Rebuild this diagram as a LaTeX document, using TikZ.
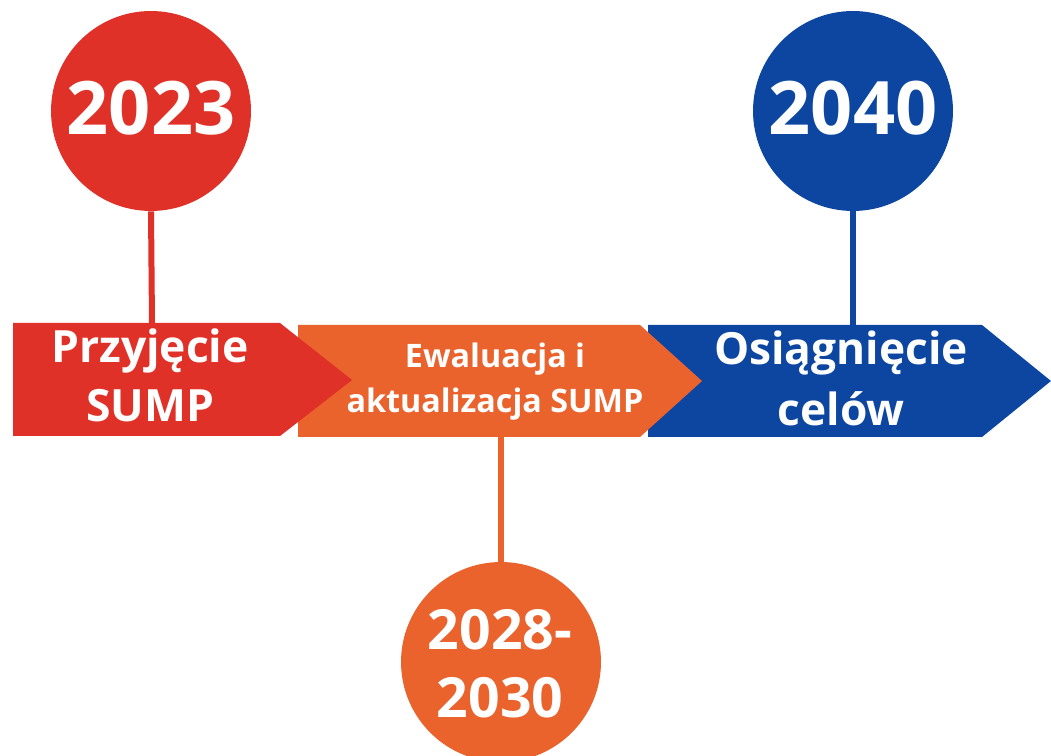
\documentclass[tikz,border=0pt]{standalone}
\usepackage{fontspec}
\setmainfont{Open Sans}
\usepackage{tikz}
\usetikzlibrary{positioning,
				calc}

\definecolor{sumpred}{RGB}{224,49,40}
\definecolor{sumporange}{RGB}{234,98,44}
\definecolor{sumpblue}{RGB}{12,70,160}

\tikzset{
	year/.style={circle, minimum size=4cm, inner sep=0pt},
	stem/.style={line width=0.12cm},
	lbl/.style={text=white, font=\bfseries, inner sep=0pt, anchor=base},
}

\begin{document}
\begin{tikzpicture}[x=0.02cm,y=-0.02cm]
		\useasboundingbox (0,0) rectangle (1051,756);
		% chevrons, drawn right to left so each tip lies on top
		\fill[sumpblue] (648,325) -- (982,325) -- (1051,381) -- (982,437) -- (648,437) -- cycle;
		\fill[sumporange] (298,325) -- (640,325) -- (702,381) -- (640,437) -- (298,437) -- cycle;
		\fill[sumpred] (13,323) -- (280,323) -- (352,380) -- (280,436) -- (13,436) -- cycle;
		\coordinate (redtop) at (152,323);
		\coordinate (orangebot) at (501,437);
		\coordinate (bluetop) at (853,325);
		% year circles
		\begin{scope}
			\clip (0,0) rectangle (1051,756);
			\node[year, fill=sumpred] (y2023) at (151,111) {};
			\node[year, fill=sumpblue] (y2040) at (853,111) {};
			\node[year, fill=sumporange] (y2028) at (501,662) {};
		\end{scope}
		\draw[stem, sumpred] (y2023.south) -- (redtop);
		\draw[stem, sumpblue] (y2040.south) -- (bluetop);
		\draw[stem, sumporange] (orangebot) -- (y2028.north);
		% texts
		\node[lbl, font=\fontsize{42}{42}\bfseries] (t2023) at (151,135) {2023};
		\node[lbl, font=\fontsize{42}{42}\bfseries] (t2040) at (853,135) {2040};
		\node[lbl, font=\fontsize{31.5}{31.5}\bfseries] (t2028a) at (500,649) {2028-};
		\node[lbl, font=\fontsize{31.5}{31.5}\bfseries] (t2028b) at (500,717) {2030};
		\node[lbl, font=\fontsize{25.3}{25.3}\bfseries] (przy) at (150,363) {Przyjęcie};
		\node[lbl, font=\fontsize{25.3}{25.3}\bfseries] (sump) at (150,422) {SUMP};
		\node[lbl, font=\fontsize{18.4}{18.4}\bfseries] (ewal) at (495,368) {Ewaluacja i};
		\node[lbl, font=\fontsize{18.4}{18.4}\bfseries] (aktu) at (495,413) {aktualizacja SUMP};
		\node[lbl, font=\fontsize{25.2}{25.2}\bfseries] (osia) at (841,365) {Osiągnięcie};
		\node[lbl, font=\fontsize{25.2}{25.2}\bfseries] (celo) at (841,426) {celów};
	\end{tikzpicture}
\end{document}
